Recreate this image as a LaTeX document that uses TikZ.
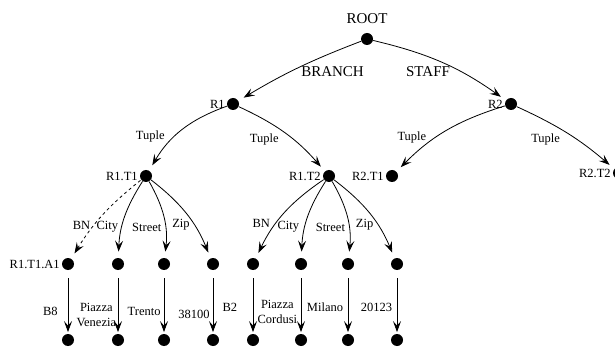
\documentclass[tikz,border=0pt]{standalone}
\usepackage{fontspec}
\setmainfont{Liberation Serif}
\usetikzlibrary{arrows.meta}
\tikzset{l/.style={font=\fontsize{12.5}{15}\selectfont, inner sep=1.5pt}}
\tikzset{b/.style={font=\fontsize{15}{15}\selectfont, inner sep=1.5pt}}
\tikzset{dot/.style={circle, fill, inner sep=0pt, minimum width=11pt, minimum height=12pt}}
\tikzset{tree/.style={<-, shorten <=6pt}}
\tikzset{val/.style={<-, shorten <=1.5pt, shorten >=8pt}}

\begin{document}
\begin{tikzpicture}[x=1pt, y=-1pt, line width=0.8pt,
    >={Stealth[length=11pt, width=8pt, inset=4.5pt]}, every label/.style={l}]
        \useasboundingbox (0,0) rectangle (615,347);
        \node (ROOT) at (367,39) [dot, label={[b, label distance=7pt]above:ROOT}] {};
        \node (R1) at (233,104) [dot, label=left:R1] {}
          edge [tree, bend left=5] node [b, right=9pt, pos=0.43] {BRANCH} (ROOT);
        \node (R2) at (511,104) [dot, label=left:R2] {}
          edge [tree, bend right=11] node [b, left=8pt, pos=0.36] {STAFF} (ROOT);
        % tuples
        \node (R1T1) at (146,176) [dot, label=left:R1.T1] {}
          edge [tree, bend left=20] node [l, left=8pt, pos=0.4] {Tuple} (R1);
        \node (R1T2) at (329,176) [dot, label=left:R1.T2] {}
          edge [tree, bend right=12] node [l, left=13pt, pos=0.4] {Tuple} (R1);
        \node (R2T1) at (392,176) [dot, label=left:R2.T1] {}
          edge [tree, bend left=14] node [l, left=8pt, pos=0.4] {Tuple} (R2);
        \node (R2T2) at (619,173) [dot, label=left:R2.T2] {}
          edge [tree, bend right=8] node [l, left=15pt, pos=0.4] {Tuple} (R2);
        % attributes of R1.T1
        \node (A1) at (68,264) [dot, label=left:R1.T1.A1] {}
          edge [tree, dashed, bend left=10] node [l, left=2pt, pos=0.37] {BN} (R1T1);
        \node (A2) at (118,264) [dot] {}
          edge [tree, bend left=15] node [l, left=2pt, pos=0.37] {City} (R1T1);
        \node (A3) at (164,264) [dot] {}
          edge [tree, bend right=18] node [l, left=2pt, pos=0.37] {Street} (R1T1);
        \node (A4) at (213,264) [dot] {}
          edge [tree, bend right=15] node [l, left=2pt, pos=0.37] {Zip} (R1T1);
        % attributes of R1.T2
        \node (A5) at (253,264) [dot] {}
          edge [tree, bend left=15] node [l, left=4pt, pos=0.37] {BN} (R1T2);
        \node (A6) at (301,264) [dot] {}
          edge [tree, bend left=15] node [l, left=4pt, pos=0.37] {City} (R1T2);
        \node (A7) at (348,264) [dot] {}
          edge [tree, bend right=18] node [l, left=2pt, pos=0.37] {Street} (R1T2);
        \node (A8) at (397,264) [dot] {}
          edge [tree, bend right=15] node [l, left=2pt, pos=0.37] {Zip} (R1T2);
        % values
        \node (V1) at (68,340) [dot] {}
          edge [val] node [l, left=8.5pt, pos=0.35] {B8} (A1);
        \node (V2) at (118,340) [dot] {}
          edge [val] node [l, left=0pt, pos=0.29, align=center] {Piazza\\Venezia} (A2);
        \node (V3) at (164,340) [dot] {}
          edge [val] node [l, left=1.5pt, pos=0.35] {Trento} (A3);
        \node (V4) at (213,340) [dot] {}
          edge [val] node [l, left=1.5pt, pos=0.3] {38100} (A4);
        \node (V5) at (253,340) [dot] {}
          edge [val] node [l, left=14pt, pos=0.41] {B2} (A5);
        \node (V6) at (301,340) [dot] {}
          edge [val] node [l, left=2pt, pos=0.35, align=center] {Piazza\\Cordusi} (A6);
        \node (V7) at (348,340) [dot] {}
          edge [val] node [l, left=3pt, pos=0.42] {Milano} (A7);
        \node (V8) at (397,340) [dot] {}
          edge [val] node [l, left=3pt, pos=0.42] {20123} (A8);
      \end{tikzpicture}
\end{document}
